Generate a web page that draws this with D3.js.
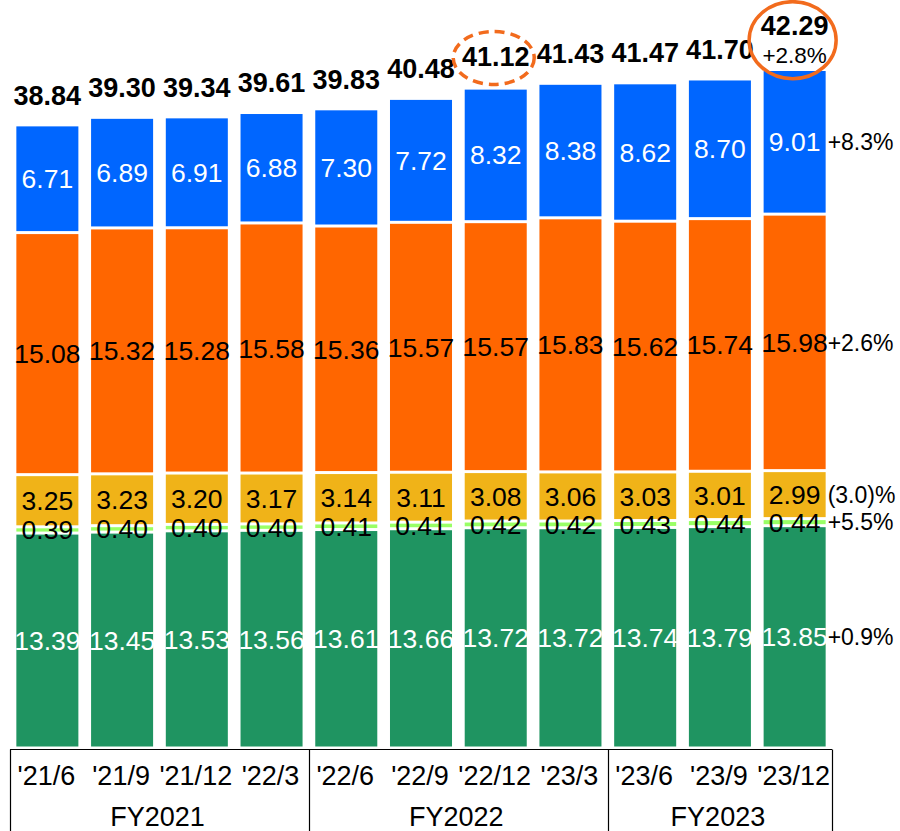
<!DOCTYPE html>
<html>
<head>
<meta charset="utf-8">
<script src="https://cdn.jsdelivr.net/npm/d3@7/dist/d3.min.js"></script>
<style>
    html, body { margin: 0; padding: 0; background: #fff; }
    svg { display: block; font-family: "Liberation Sans", Arial, sans-serif; }
</style>
</head>
<body>
<script>
'use strict';

var periods = ["'21/6", "'21/9", "'21/12", "'22/3", "'22/6", "'22/9", "'22/12", "'23/3", "'23/6", "'23/9", "'23/12"];
var fiscalYears = ["FY2021", "FY2022", "FY2023"];
var fiscalYearOf = ["FY2021", "FY2021", "FY2021", "FY2021", "FY2022", "FY2022", "FY2022", "FY2022", "FY2023", "FY2023", "FY2023"];

var green      = [13.39, 13.45, 13.53, 13.56, 13.61, 13.66, 13.72, 13.72, 13.74, 13.79, 13.85];
var lightGreen = [0.39, 0.40, 0.40, 0.40, 0.41, 0.41, 0.42, 0.42, 0.43, 0.44, 0.44];
var yellow     = [3.25, 3.23, 3.20, 3.17, 3.14, 3.11, 3.08, 3.06, 3.03, 3.01, 2.99];
var orange     = [15.08, 15.32, 15.28, 15.58, 15.36, 15.57, 15.57, 15.83, 15.62, 15.74, 15.98];
var blue       = [6.71, 6.89, 6.91, 6.88, 7.30, 7.72, 8.32, 8.38, 8.62, 8.70, 9.01];
var totals     = [38.84, 39.30, 39.34, 39.61, 39.83, 40.48, 41.12, 41.43, 41.47, 41.70, 42.29];

// growth of the last period, per segment (bottom to top)
var growth = ["+0.9%", "+5.5%", "(3.0)%", "+2.6%", "+8.3%"];
var totalGrowth = "+2.8%";
var highlighted = "'22/12";

var W = 900, H = 831;

var series = [
    {key: "green",      values: green,      fill: "#1f9461", text: "#fff"},
    {key: "lightGreen", values: lightGreen, fill: "#99ff66", text: "#000"},
    {key: "yellow",     values: yellow,     fill: "#f0b318", text: "#000"},
    {key: "orange",     values: orange,     fill: "#ff6600", text: "#000"},
    {key: "blue",       values: blue,       fill: "#0066ff", text: "#fff"}
];

var rows = periods.map(function(p, i){
    var r = {period: p};
    series.forEach(function(s){ r[s.key] = s.values[i]; });
    return r;
});

var stack = d3.stack().keys(series.map(function(s){ return s.key; }));
var layers = stack(rows);

var xScale = d3.scaleBand().domain(periods).range([10, 832])
        .paddingInner(0.17).paddingOuter(0.085),
    yScale = d3.scaleLinear().domain([0, 46.6]).range([748, 0]);

var gapPx = (xScale.step() - xScale.bandwidth()) / 2;
var fmt = d3.format(".2f");

var chart = d3.select("body").append("svg")
    .attr("width", W).attr("height", H);

// stacked segments
var layerG = chart.selectAll("g.layer").data(layers).enter().append("g")
    .attr("class", "layer")
    .style("fill", function(d, i){ return series[i].fill; });

layerG.selectAll("rect").data(function(d){ return d; }).enter().append("rect")
    .attr("x", function(d){ return xScale(d.data.period); })
    .attr("width", xScale.bandwidth())
    .attr("y", function(d){ return yScale(d[1]) + 1.5; })
    .attr("height", function(d){ return Math.max(0, yScale(d[0]) - yScale(d[1]) - 3); });

// segment labels
layers.forEach(function(layer, i){
    chart.append("g").selectAll("text").data(layer).enter().append("text")
        .attr("x", function(d){ return xScale(d.data.period) + xScale.bandwidth() / 2; })
        .attr("y", function(d){ return yScale((d[0] + d[1]) / 2); })
        .attr("dy", "0.36em")
        .attr("text-anchor", "middle")
        .style("font-size", "26.5px")
        .style("fill", series[i].text)
        .text(function(d){ return fmt(d[1] - d[0]); });
});

// growth labels on the right of the last bar
var last = periods.length - 1;
layers.forEach(function(layer, i){
    var d = layer[last];
    chart.append("text")
        .attr("x", xScale(periods[last]) + xScale.bandwidth() + 2)
        .attr("y", yScale((d[0] + d[1]) / 2))
        .attr("dy", "0.36em")
        .style("font-size", "23px")
        .style("fill", "#000")
        .text(growth[i]);
});

// totals
chart.append("g").selectAll("text").data(totals).enter().append("text")
    .attr("x", function(d, i){ return xScale(periods[i]) + xScale.bandwidth() / 2; })
    .attr("y", function(d, i){
        if (i === last) return yScale(d) - 34;
        if (periods[i] === highlighted) return yScale(d) - 22;
        return yScale(d) - 20;
    })
    .attr("text-anchor", "middle")
    .style("font-size", "27px")
    .style("font-weight", "bold")
    .style("fill", "#000")
    .text(function(d){ return fmt(d); });

var lastCx = xScale(periods[last]) + xScale.bandwidth() / 2;
chart.append("text")
    .attr("x", lastCx)
    .attr("y", yScale(totals[last]) - 6)
    .attr("text-anchor", "middle")
    .style("font-size", "22.5px")
    .style("fill", "#000")
    .text(totalGrowth);

// highlight ellipses
var hi = periods.indexOf(highlighted);
chart.append("ellipse")
    .attr("cx", xScale(highlighted) + xScale.bandwidth() / 2 - 2)
    .attr("cy", yScale(totals[hi]) - 30)
    .attr("rx", 40.5).attr("ry", 26.5)
    .style("fill", "none")
    .style("stroke", "#f26b1d")
    .style("stroke-width", 3.5)
    .style("stroke-dasharray", "10,6");

chart.append("ellipse")
    .attr("cx", lastCx - 2)
    .attr("cy", yScale(totals[last]) - 29)
    .attr("rx", 43.5).attr("ry", 38.5)
    .style("fill", "none")
    .style("stroke", "#f26b1d")
    .style("stroke-width", 3.5);

// category table below the bars
var tableTop = 749.5;
chart.append("line")
    .attr("x1", 10).attr("x2", 832)
    .attr("y1", tableTop).attr("y2", tableTop)
    .style("stroke", "#000").style("stroke-width", 1.2);

chart.append("g").selectAll("text").data(periods).enter().append("text")
    .attr("x", function(d){ return xScale(d) + xScale.bandwidth() / 2 - 1; })
    .attr("y", 785)
    .attr("text-anchor", "middle")
    .style("font-size", "27px")
    .style("fill", "#000")
    .text(function(d){ return d; });

var groups = fiscalYears.map(function(fy){
    var idx = periods.filter(function(p, i){ return fiscalYearOf[i] === fy; });
    var x0 = xScale(idx[0]) - gapPx,
        x1 = xScale(idx[idx.length - 1]) + xScale.bandwidth() + gapPx;
    return {label: fy, x0: x0, x1: x1};
});

var bounds = [groups[0].x0].concat(groups.map(function(g){ return g.x1; }));
chart.append("g").selectAll("line").data(bounds).enter().append("line")
    .attr("x1", function(d){ return Math.round(d) + 0.5; })
    .attr("x2", function(d){ return Math.round(d) + 0.5; })
    .attr("y1", tableTop).attr("y2", H)
    .style("stroke", "#000").style("stroke-width", 1.2);

chart.append("g").selectAll("text").data(groups).enter().append("text")
    .attr("x", function(d){ return (d.x0 + d.x1) / 2 - 2; })
    .attr("y", 826)
    .attr("text-anchor", "middle")
    .style("font-size", "27px")
    .style("fill", "#000")
    .text(function(d){ return d.label; });
</script>
</body>
</html>
